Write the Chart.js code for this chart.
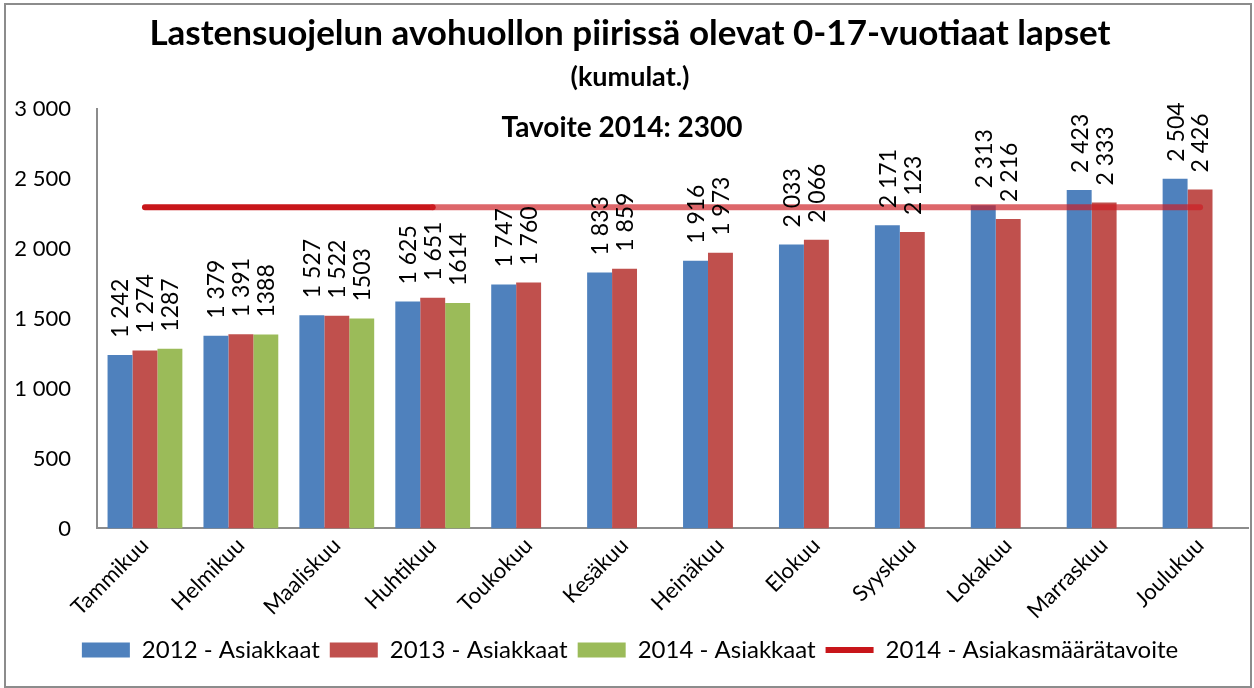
<!DOCTYPE html>
<html>
<head>
<meta charset="utf-8">
<script src="https://cdn.jsdelivr.net/npm/chart.js@4"></script>
<style>
  html, body { margin: 0; padding: 0; background: #fff; }
  .frame {
    position: absolute; left: 4px; top: 3px;
    width: 1244px; height: 681px;
    border: 2px solid #8c8c8c;
  }
</style>
</head>
<body>
<div class="frame"><canvas id="chart"></canvas></div>
<script>
const months = ['Tammikuu', 'Helmikuu', 'Maaliskuu', 'Huhtikuu', 'Toukokuu', 'Kesäkuu',
  'Heinäkuu', 'Elokuu', 'Syyskuu', 'Lokakuu', 'Marraskuu', 'Joulukuu'];
const clients2012 = [1242, 1379, 1527, 1625, 1747, 1833, 1916, 2033, 2171, 2313, 2423, 2504];
const clients2013 = [1274, 1391, 1522, 1651, 1760, 1859, 1973, 2066, 2123, 2216, 2333, 2426];
const clients2014 = [1287, 1388, 1503, 1614, null, null, null, null, null, null, null, null];
const target2014 = [2300, 2300, 2300, 2300, 2300, 2300, 2300, 2300, 2300, 2300, 2300, 2300];
const yTicks = [0, 500, 1000, 1500, 2000, 2500, 3000];

const FONT = "Lato, 'Open Sans', sans-serif";

// 1 242 style with a space as thousands separator
const spaced = (v) => String(v).replace(/\B(?=(\d{3})+(?!\d))/g, ' ');

// rotated value labels above the bars
const barLabels = {
  id: 'barLabels',
  afterDatasetsDraw(chart) {
    const ctx = chart.ctx;
    ctx.save();
    ctx.font = '23px ' + FONT;
    ctx.fillStyle = '#000';
    ctx.textAlign = 'left';
    ctx.textBaseline = 'middle';
    chart.data.datasets.forEach((ds, i) => {
      if (ds.type === 'line') return;
      chart.getDatasetMeta(i).data.forEach((bar, j) => {
        const v = ds.data[j];
        if (v == null) return;
        const txt = ds.plainLabels ? String(v) : spaced(v);
        ctx.save();
        ctx.translate(bar.x + 1, bar.y - 17);
        ctx.rotate(-Math.PI / 2);
        ctx.fillText(txt, 0, 0);
        ctx.restore();
      });
    });
    ctx.restore();
  }
};

// third title line sits inside the plot area
const goalTitle = {
  id: 'goalTitle',
  afterDraw(chart) {
    const ctx = chart.ctx;
    ctx.save();
    ctx.font = 'bold 28px ' + FONT;
    ctx.fillStyle = '#000';
    ctx.textAlign = 'center';
    ctx.textBaseline = 'middle';
    ctx.fillText('Tavoite 2014: 2300', chart.width / 2 - 6, 123);
    ctx.restore();
  }
};

new Chart(document.getElementById('chart'), {
  data: {
    labels: months,
    datasets: [
      { type: 'bar', label: '2012 - Asiakkaat', data: clients2012, backgroundColor: '#4F81BD', order: 1, pointStyle: 'rect' },
      { type: 'bar', label: '2013 - Asiakkaat', data: clients2013, backgroundColor: '#C0504D', order: 1, pointStyle: 'rect' },
      { type: 'bar', label: '2014 - Asiakkaat', data: clients2014, backgroundColor: '#9BBB59', order: 1, pointStyle: 'rect', plainLabels: true },
      {
        type: 'line', label: '2014 - Asiakasmäärätavoite', data: target2014, order: 0,
        borderColor: '#C8161A', backgroundColor: '#C8161A', borderWidth: 6,
        borderCapStyle: 'round', pointRadius: 0, pointStyle: 'line',
        segment: {
          borderColor: (c) => c.p0DataIndex < 3 ? '#C8161A' : 'rgba(205, 30, 35, 0.68)'
        }
      }
    ]
  },
  options: {
    responsive: true,
    maintainAspectRatio: false,
    animation: false,
    layout: { padding: { left: 6, right: 2, top: 0, bottom: 14 } },
    datasets: {
      bar: { categoryPercentage: 0.78, barPercentage: 1, borderWidth: 0 }
    },
    scales: {
      x: {
        grid: { display: false, drawTicks: false },
        border: { display: true, color: '#8c8c8c', width: 2 },
        ticks: {
          color: '#000', font: { family: FONT, size: 22 },
          maxRotation: 45, minRotation: 45, padding: 4, autoSkip: false
        },
        // let the first rotated label hang left of the plot, like the original
        afterFit: (scale) => { scale.paddingLeft = 0; scale.paddingRight = 0; }
      },
      y: {
        min: 0, max: 3000,
        afterBuildTicks: (axis) => { axis.ticks = yTicks.map(v => ({ value: v })); },
        grid: { display: false, drawTicks: false },
        border: { display: true, color: '#8c8c8c', width: 2 },
        ticks: {
          color: '#000', font: { family: FONT, size: 22 }, padding: 26,
          callback: (v) => spaced(v)
        },
        afterFit: (scale) => { scale.width = 85; }
      }
    },
    plugins: {
      title: {
        display: true,
        text: 'Lastensuojelun avohuollon piirissä olevat 0-17-vuotiaat lapset',
        color: '#000', font: { family: FONT, size: 35, weight: 'bold' },
        padding: { top: 8, bottom: 2 }
      },
      subtitle: {
        display: true,
        text: '(kumulat.)',
        color: '#000', font: { family: FONT, size: 27, weight: 'bold' },
        padding: { top: 4, bottom: 16 }
      },
      legend: {
        position: 'bottom',
        labels: {
          color: '#000', font: { family: FONT, size: 24 },
          usePointStyle: true, pointStyleWidth: 48, boxHeight: 15, padding: 10,
          sort: (a, b) => a.datasetIndex - b.datasetIndex
        }
      },
      tooltip: { enabled: false }
    }
  },
  plugins: [barLabels, goalTitle]
});
</script>
</body>
</html>
